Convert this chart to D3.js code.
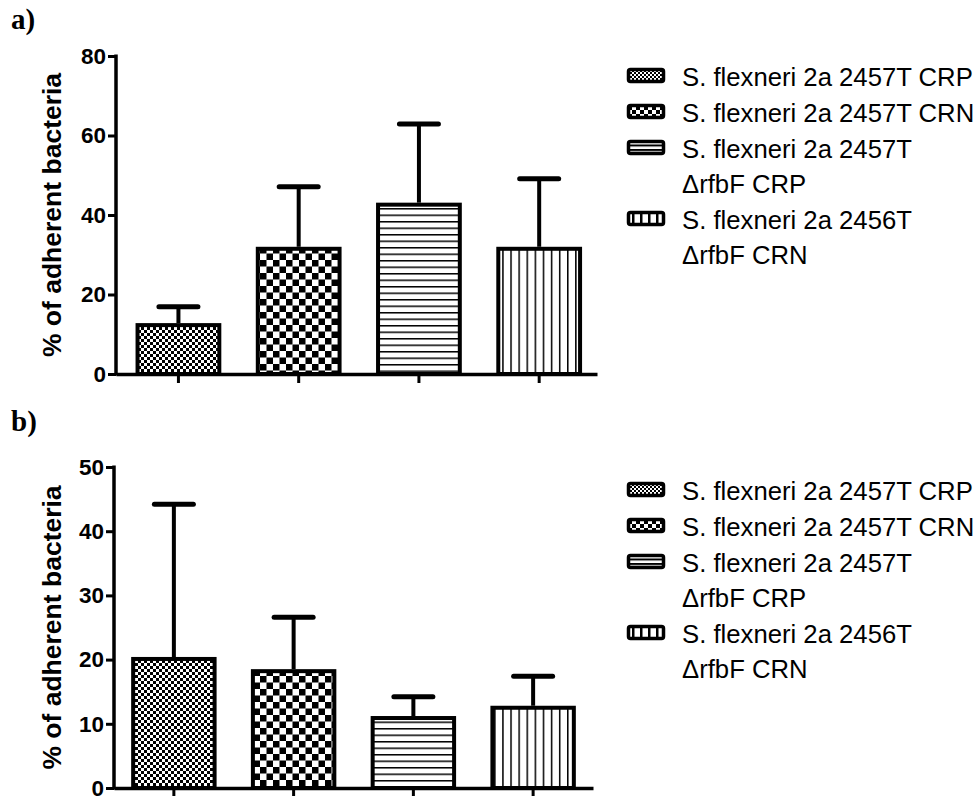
<!DOCTYPE html>
<html>
<head>
<meta charset="utf-8">
<script src="https://cdn.jsdelivr.net/npm/d3@7"></script>
<style>
  body { margin: 0; background: #fff; }
  svg { display: block; }
</style>
</head>
<body>
<svg id="chart" width="979" height="796"></svg>
<script>
// ---- data ----
const categories = [
  "S. flexneri 2a 2457T CRP",
  "S. flexneri 2a 2457T CRN",
  "S. flexneri 2a 2457T ΔrfbF CRP",
  "S. flexneri 2a 2456T ΔrfbF CRN"
];
const legendLines = [
  ["S. flexneri 2a 2457T CRP"],
  ["S. flexneri 2a 2457T CRN"],
  ["S. flexneri 2a 2457T", "ΔrfbF CRP"],
  ["S. flexneri 2a 2456T", "ΔrfbF CRN"]
];
const meanA = [12.3, 31.5, 42.6, 31.5];
const errA  = [4.6, 15.6, 20.3, 17.6];
const meanB = [20.1, 18.2, 10.9, 12.5];
const errB  = [24.1, 8.4, 3.3, 4.9];
const ticksA = [0, 20, 40, 60, 80];
const ticksB = [0, 10, 20, 30, 40, 50];
const patterns = ["fineCheck", "coarseCheck", "hLines", "vLines"];

const svg = d3.select("#chart");
const defs = svg.append("defs");

// pattern definitions
function checker(id, s) {
  const p = defs.append("pattern").attr("id", id).attr("patternUnits", "userSpaceOnUse")
    .attr("width", 2 * s).attr("height", 2 * s);
  p.append("rect").attr("width", 2 * s).attr("height", 2 * s).attr("fill", "#fff");
  p.append("rect").attr("width", s).attr("height", s).attr("fill", "#000");
  p.append("rect").attr("x", s).attr("y", s).attr("width", s).attr("height", s).attr("fill", "#000");
}
checker("fineCheck", 3);
checker("coarseCheck", 6.5);
checker("fineCheckL", 2);
checker("coarseCheckL", 4);
function hlines(id, s, w) {
  const p = defs.append("pattern").attr("id", id).attr("patternUnits", "userSpaceOnUse")
    .attr("width", 10).attr("height", s);
  p.append("rect").attr("width", 10).attr("height", s).attr("fill", "#fff");
  p.append("rect").attr("y", 0).attr("width", 10).attr("height", w).attr("fill", "#000");
}
function vlines(id, s, w) {
  const p = defs.append("pattern").attr("id", id).attr("patternUnits", "userSpaceOnUse")
    .attr("width", s).attr("height", 10);
  p.append("rect").attr("width", s).attr("height", 10).attr("fill", "#fff");
  p.append("rect").attr("x", 0).attr("width", w).attr("height", 10).attr("fill", "#000");
}
hlines("hLines", 6.5, 1.5);
vlines("vLines", 8.1, 1.5);
hlines("hLinesL", 4.5, 2);
vlines("vLinesL", 8, 2.5);

function panel(opts) {
  const { label, labelY, means, errs, ticks, ymax, x0, x1, y0, y1, align, legendTop } = opts;
  const g = svg.append("g");

  g.append("text").attr("x", 11).attr("y", labelY)
    .attr("font-family", "'Liberation Serif', 'Times New Roman', serif")
    .attr("font-weight", "bold").attr("font-size", 29).text(label);

  const y = d3.scaleLinear().domain([0, ymax]).range([y0, y1]);
  const x = d3.scaleBand().domain(categories).range([x0, x1])
    .paddingInner(0.32).paddingOuter(0.16).align(align);

  // bars
  g.selectAll("rect.bar").data(categories).join("rect")
    .attr("class", "bar")
    .attr("x", d => x(d))
    .attr("y", (d, i) => y(means[i]))
    .attr("width", x.bandwidth())
    .attr("height", (d, i) => y(0) - y(means[i]))
    .attr("fill", (d, i) => `url(#${patterns[i]})`)
    .attr("stroke", "#000").attr("stroke-width", 4);

  // error bars
  g.selectAll("line.stem").data(categories).join("line")
    .attr("x1", d => x(d) + x.bandwidth() / 2).attr("x2", d => x(d) + x.bandwidth() / 2)
    .attr("y1", (d, i) => y(means[i]) - 2).attr("y2", (d, i) => y(means[i] + errs[i]))
    .attr("stroke", "#000").attr("stroke-width", 4);
  g.selectAll("line.cap").data(categories).join("line")
    .attr("x1", d => x(d) + x.bandwidth() / 2 - 19.5).attr("x2", d => x(d) + x.bandwidth() / 2 + 19.5)
    .attr("y1", (d, i) => y(means[i] + errs[i])).attr("y2", (d, i) => y(means[i] + errs[i]))
    .attr("stroke", "#000").attr("stroke-width", 5).attr("stroke-linecap", "round");

  // y axis
  const ya = g.append("g").attr("transform", `translate(${x0},0)`)
    .call(d3.axisLeft(y).tickValues(ticks).tickFormat(d3.format("d")).tickSize(8).tickSizeOuter(0).tickPadding(2));
  ya.select(".domain").attr("stroke-width", 3.5).attr("d", `M0,${y0 + 1.5}V${y1 - 1.5}`);
  ya.selectAll(".tick line").attr("stroke-width", 3);
  ya.selectAll(".tick text").attr("font-family", "'Liberation Sans', Arial, sans-serif")
    .attr("font-weight", "bold").attr("font-size", 22.5).attr("fill", "#000");

  // x axis
  const xa = g.append("g").attr("transform", `translate(0,${y0})`)
    .call(d3.axisBottom(x).tickSize(9).tickSizeOuter(0).tickFormat(""));
  xa.select(".domain").attr("stroke-width", 3.5);
  xa.selectAll(".tick line").attr("stroke-width", 3);

  // y label
  g.append("text")
    .attr("transform", `translate(61,${(y0 + y1) / 2}) rotate(-90)`)
    .attr("text-anchor", "middle")
    .attr("font-family", "'Liberation Sans', Arial, sans-serif")
    .attr("font-weight", "bold").attr("font-size", 26.5).text("% of adherent bacteria");

  // legend
  const rowStarts = [0, 36, 72, 143];
  const lpat = ["fineCheckL", "coarseCheckL", "hLinesL", "vLinesL"];
  const lg = g.append("g").attr("transform", `translate(0,${legendTop})`);
  legendLines.forEach((lines, i) => {
    const by = rowStarts[i];
    lg.append("rect").attr("x", 628.5).attr("y", by - 16.5).attr("width", 35).attr("height", 12)
      .attr("rx", 2).attr("fill", `url(#${lpat[i]})`).attr("stroke", "#000").attr("stroke-width", 3.5);
    lines.forEach((t, j) => {
      lg.append("text").attr("x", 682).attr("y", by + j * 35)
        .attr("font-family", "'Liberation Sans', Arial, sans-serif")
        .attr("font-size", 25.7).attr("fill", "#000").text(t);
    });
  });
}

panel({ label: "a)", labelY: 29, means: meanA, errs: errA, ticks: ticksA, ymax: 80,
  x0: 116, x1: 597, y0: 374, y1: 56, align: 0.56, legendTop: 86 });
panel({ label: "b)", labelY: 431, means: meanB, errs: errB, ticks: ticksB, ymax: 50,
  x0: 114, x1: 593, y0: 788, y1: 467, align: 0.5, legendTop: 500 });
</script>
</body>
</html>
